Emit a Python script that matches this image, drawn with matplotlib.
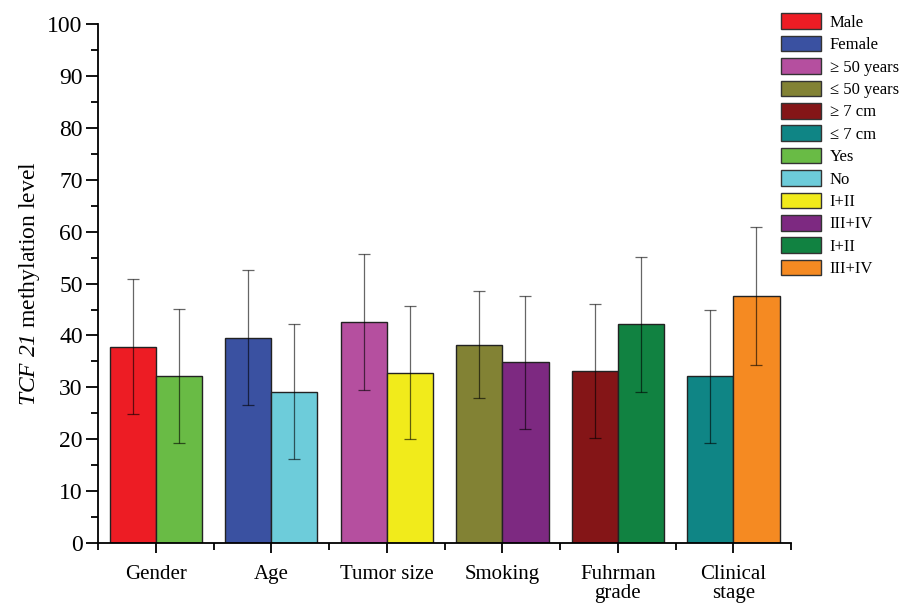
import matplotlib
matplotlib.use("Agg")
import matplotlib.pyplot as plt
import numpy as np
from matplotlib.patches import Patch
from matplotlib.ticker import MultipleLocator, FixedLocator

plt.rcParams['font.family'] = ['Liberation Serif', 'DejaVu Serif']
plt.rcParams['mathtext.fontset'] = 'custom'
plt.rcParams['mathtext.rm'] = 'Liberation Serif:italic'
plt.rcParams['mathtext.it'] = 'Liberation Serif:italic'

groups = ["Gender", "Age", "Tumor size", "Smoking", "Fuhrman\ngrade", "Clinical\nstage"]

# first bar of each pair / second bar of each pair
left_mean = [37.8, 39.6, 42.6, 38.2, 33.1, 32.1]
left_sd = [13.0, 13.0, 13.2, 10.3, 12.9, 12.8]
right_mean = [32.2, 29.2, 32.8, 34.8, 42.2, 47.7]
right_sd = [12.9, 13.0, 12.8, 12.9, 13.0, 13.3]

left_colors = ["#ED1C24", "#3A51A1", "#B54F9F", "#828234", "#841517", "#0F8585"]
right_colors = ["#69BB45", "#6DCCDA", "#F1EB1B", "#7D2981", "#118241", "#F58A22"]

legend_labels = ["Male", "Female", "\u2265 50 years", "\u2264 50 years", "\u2265 7 cm", "\u2264 7 cm",
                 "Yes", "No", "I+II", "III+IV", "I+II", "III+IV"]
legend_colors = left_colors + right_colors

fig = plt.figure(figsize=(9.01, 6.05), dpi=100)
ax = fig.add_axes([0.1088, 0.1025, 0.878 - 0.1088, 0.8575])

x = np.arange(len(groups))
w = 0.4
ax.bar(x - w / 2, left_mean, w, color=left_colors, edgecolor="#222222", linewidth=1.0, zorder=2)
ax.bar(x + w / 2, right_mean, w, color=right_colors, edgecolor="#222222", linewidth=1.0, zorder=2)
ax.errorbar(x - w / 2, left_mean, yerr=left_sd, fmt="none", ecolor="black", alpha=0.6,
            elinewidth=0.9, capsize=4, capthick=0.9, zorder=3)
ax.errorbar(x + w / 2, right_mean, yerr=right_sd, fmt="none", ecolor="black", alpha=0.6,
            elinewidth=0.9, capsize=4, capthick=0.9, zorder=3)

ax.set_xlim(-0.5, len(groups) - 0.5)
ax.set_ylim(0, 100)
ax.spines['top'].set_visible(False)
ax.spines['right'].set_visible(False)
ax.spines['left'].set_linewidth(1.3)
ax.spines['bottom'].set_linewidth(1.3)

ax.set_xticks(x)
ax.set_xticklabels(groups, fontsize=15, linespacing=1.0)
ax.xaxis.set_minor_locator(FixedLocator(np.arange(-0.5, len(groups), 1.0)))
ax.yaxis.set_major_locator(MultipleLocator(10))
ax.yaxis.set_minor_locator(MultipleLocator(5))
ax.tick_params(axis='y', which='major', labelsize=17, length=9, width=1.3, pad=2)
ax.tick_params(axis='y', which='minor', length=5, width=1.3)
ax.tick_params(axis='x', which='major', length=7, width=1.3, pad=9)
ax.tick_params(axis='x', which='minor', length=5, width=1.3)

ax.set_ylabel(r"$\mathrm{TCF\ 21}$ methylation level", fontsize=17, labelpad=4)

handles = [Patch(facecolor=c, edgecolor="#333333", linewidth=1.0) for c in legend_colors]
fig.legend(handles, legend_labels, loc="upper left", bbox_to_anchor=(0.867, 0.978),
           frameon=False, fontsize=12, handlelength=2.4, handleheight=1.08,
           labelspacing=0.29, handletextpad=0.5, borderaxespad=0, borderpad=0)

fig.savefig("out.png", dpi=100)
